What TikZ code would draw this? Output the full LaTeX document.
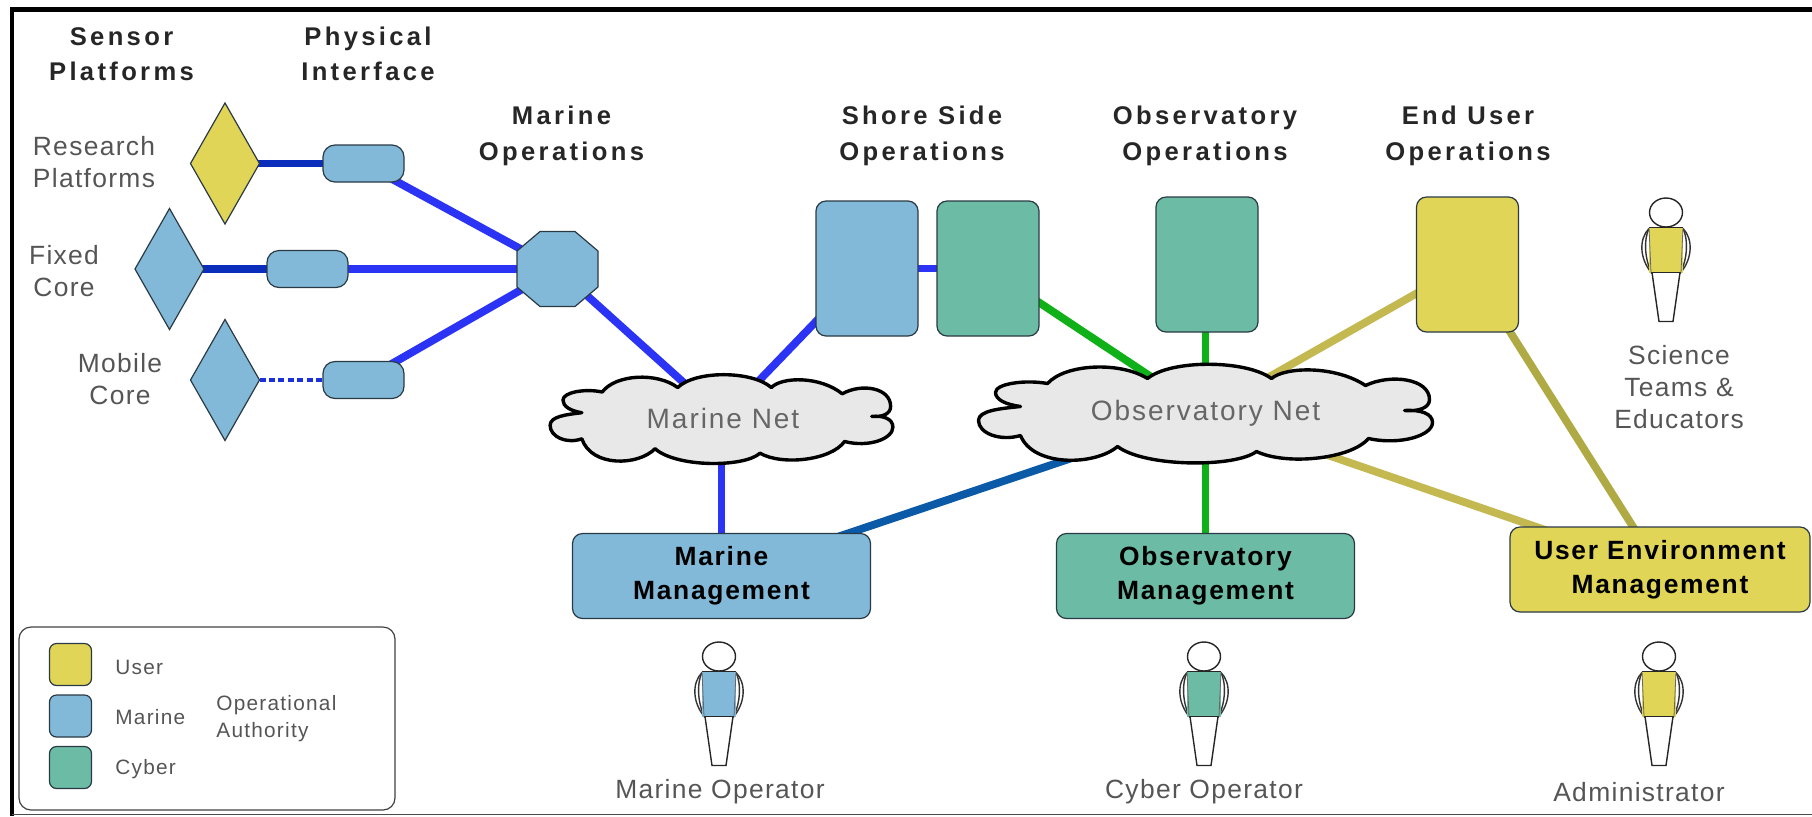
\documentclass[tikz,border=0pt]{standalone}
\usepackage{fontspec}
\setmainfont{Liberation Sans}
\newfontfamily\headfont[LetterSpace=13]{Liberation Sans Bold}
\newfontfamily\mgmtfont[LetterSpace=6.5]{Liberation Sans Bold}
\newfontfamily\lblfont[LetterSpace=5]{Liberation Sans}
\newfontfamily\netfont[LetterSpace=7]{Liberation Sans}
\newfontfamily\legfont[LetterSpace=6]{Liberation Sans}
\usetikzlibrary{shapes.geometric}
\pgfdeclarelayer{background}
\pgfsetlayers{background,main}
\definecolor{cblue}{HTML}{82B9D9}
\definecolor{cgreen}{HTML}{6CBCA5}
\definecolor{cyell}{HTML}{E0D557}
\definecolor{edge}{HTML}{2A3A44}
\definecolor{lbright}{HTML}{2B33F5}
\definecolor{ldark}{HTML}{0B2DBB}
\definecolor{lsea}{HTML}{0A5AA8}
\definecolor{lgreen}{HTML}{10B018}
\definecolor{lyell}{HTML}{C4B850}
\definecolor{lolive}{HTML}{B0AA45}
\definecolor{lbltxt}{HTML}{555555}
\tikzset{
  x=0.5pt,y=-0.5pt,
  shapebase/.style={draw=edge,line width=0.6pt,inner sep=0pt,outer sep=0pt},
  plat/.style={shapebase,diamond,minimum width=34.5pt,minimum height=60.5pt},
  iface/.style={shapebase,rectangle,rounded corners=6pt,fill=cblue,minimum width=40.5pt,minimum height=18.5pt},
  tallbox/.style={shapebase,rectangle,rounded corners=5pt,minimum width=51pt,minimum height=67.5pt},
  mgmt/.style={shapebase,rectangle,rounded corners=5pt,minimum width=149pt,minimum height=42.5pt,align=center,font=\mgmtfont\fontsize{13.2}{17}\selectfont,text=black},
  swatch/.style={shapebase,rectangle,rounded corners=3.5pt,minimum width=21pt,minimum height=21pt},
  head/.style={inner sep=0pt,align=center,font=\headfont\fontsize{12.8}{17.8}\selectfont,text=black!85},
  lbl/.style={inner sep=0pt,align=center,font=\lblfont\fontsize{13.2}{16}\selectfont,text=lbltxt},
  netlbl/.style={inner sep=0pt,align=center,font=\netfont\fontsize{14}{16}\selectfont,text=black!60},
  leg/.style={inner sep=0pt,align=left,font=\legfont\fontsize{10.4}{13.5}\selectfont,text=lbltxt},
  conn/.style={line width=3.9pt},
  cloudline/.style={draw=black,fill=black!9,line width=1.7pt,line join=round},
  person/.pic={
    \draw[black!85,line width=0.7pt,fill=white] (0,0) ellipse[x radius=16.5,y radius=14.5];
    \draw[black!85,line width=0.7pt] (-14,60) -- (-7,109) -- (7,109) -- (14,60);
    \draw[black!80,line width=0.7pt] (-17,16) .. controls (-27,26) and (-27,46) .. (-14,61);
    \draw[black!80,line width=0.7pt] (-17,16) .. controls (-22,26) and (-22,46) .. (-14,61);
    \draw[black!80,line width=0.7pt] (17,16) .. controls (27,26) and (27,46) .. (14,61);
    \draw[black!80,line width=0.7pt] (17,16) .. controls (22,26) and (22,46) .. (14,61);
    \fill[#1] (-17,15) rectangle (17,60);
    \draw[black!85,line width=0.7pt] (-17,15) -- (17,15);
    \draw[black!85,line width=0.7pt] (-15,60) -- (15,60);
    \draw[black!60,line width=0.4pt] (-17,15) -- (-15,60);
    \draw[black!60,line width=0.4pt] (17,15) -- (15,60);
  },
  person/.default=cblue
}
\newcommand{\cloudoutline}[4]{%
  \draw[cloudline,shift={(#1,#2)},xscale=#3,yscale=#4]
    (-58,-35) .. controls (-35,-54) and (40,-54) .. (66,-35)
    .. controls (80,-47) and (130,-48) .. (160,-28)
    .. controls (185,-40) and (224,-35) .. (224,-14)
    .. controls (224,-5) and (212,-2) .. (199,-3)
    .. controls (215,-4) and (227,0) .. (227,9)
    .. controls (227,22) and (195,32) .. (163,25)
    .. controls (145,46) and (80,52) .. (51,38)
    .. controls (30,54) and (-60,54) .. (-88,33)
    .. controls (-110,52) and (-172,54) .. (-185,22)
    .. controls (-205,28) and (-227,20) .. (-227,7)
    .. controls (-227,-3) and (-205,-5) .. (-185,-7)
    .. controls (-200,-9) and (-210,-14) .. (-210,-21)
    .. controls (-210,-30) and (-180,-34) .. (-158,-30)
    .. controls (-140,-50) and (-85,-52) .. (-58,-35) -- cycle;}
\begin{document}
\begin{tikzpicture}
\useasboundingbox (0,0) rectangle (1812,816);
% frame
\draw[black,line width=2.2pt] (1812,9.5) -- (12,9.5) -- (12,816);
\draw[black!70,line width=0.8pt] (12,814.5) -- (1812,814.5);
% shapes
\node[plat,fill=cyell] (research) at (225,163.5) {};
\node[plat,fill=cblue] (fixed) at (169.5,269) {};
\node[plat,fill=cblue] (mobile) at (225,380) {};
\node[iface] (if1) at (363.5,163.5) {};
\node[iface] (if2) at (307.5,269) {};
\node[iface] (if3) at (363.5,380) {};
\node[inner sep=0pt,outer sep=0pt,minimum width=40.5pt,minimum height=37.5pt] (octa) at (557.5,269) {};
\draw[shapebase,fill=cblue,line join=round,shift={(octa.center)}]
  (-17.5,-37.5) -- (17.5,-37.5) -- (40.5,-18) -- (40.5,18) -- (17.5,37.5) -- (-17.5,37.5) -- (-40.5,18) -- (-40.5,-18) -- cycle;
\node[tallbox,fill=cblue] (shoreA) at (867,268.5) {};
\node[tallbox,fill=cgreen] (shoreB) at (988,268.5) {};
\node[tallbox,fill=cgreen] (obsbox) at (1207,264.5) {};
\node[tallbox,fill=cyell] (userbox) at (1467.5,264.5) {};
\node[mgmt,fill=cblue] (marinemg) at (721.5,576) {Marine\\Management};
\node[mgmt,fill=cgreen] (obsmg) at (1205.5,576) {Observatory\\Management};
\node[mgmt,fill=cyell,minimum width=150pt] (usermg) at (1660,569.5) {User Environment\\Management};
\node[netlbl] (marinenet) at (723,418) {Marine Net};
\node[netlbl] (obsnet) at (1205.5,413) {Observatory Net};
% connectors + clouds behind
\begin{pgfonlayer}{background}
\draw[conn,ldark] (research.center) -- (if1.center);
\draw[conn,ldark] (fixed.center) -- (if2.center);
\draw[ldark!50!lbright,line width=2.2pt,dash pattern=on 3pt off 1.7pt] (mobile.east) -- (if3.west);
\draw[conn,lbright] (if1.center) -- (octa.center);
\draw[conn,lbright] (if2.center) -- (octa.center);
\draw[conn,lbright] (if3.center) -- (octa.center);
\draw[conn,lbright] (octa.center) -- (marinenet.center);
\draw[conn,lbright] (marinenet.center) -- (shoreA.center);
\draw[conn,lbright] (shoreA.center) -- (shoreB.center);
\draw[conn,lbright] (marinemg.center |- marinenet.center) -- (marinemg.center);
\draw[conn,lsea] (obsnet.center) -- (marinemg.center);
\draw[conn,lgreen] (shoreB.center) -- (obsnet.center);
\draw[conn,lgreen] (obsnet.center) -- (obsnet.center |- obsbox.center);
\draw[conn,lgreen] (obsnet.center) -- (obsmg.center);
\draw[conn,lyell] (userbox.center) -- (obsnet.center);
\draw[conn,lyell] (obsnet.center) -- (usermg.center);
\draw[conn,lolive] (userbox.center) -- (usermg.center);
\cloudoutline{721.5}{419}{0.755}{0.9}
\cloudoutline{1205.5}{413.5}{1}{1}
\end{pgfonlayer}
% headings
\node[head] (h1) at (121.5,54) {Sensor\\Platforms};
\node[head] (h2) at (368,54) {Physical\\Interface};
\node[head] (h3) at (561.5,136) {Marine\\Operations};
\node[head] (h4) at (922,136) {Shore Side\\Operations};
\node[head] (h5) at (1205,136) {Observatory\\Operations};
\node[head] (h6) at (1468,136) {End User\\Operations};
% platform labels
\node[lbl] (l1) at (94,162.5) {Research\\Platforms};
\node[lbl] (l2) at (64,271.5) {Fixed\\Core};
\node[lbl] (l3) at (120,379) {Mobile\\Core};
\node[lbl] (l4) at (1679,387) {Science\\Teams \&\\Educators};
% persons
\pic at (719,656.5) {person=cblue};
\pic at (1204,656.5) {person=cgreen};
\pic at (1659,656.5) {person=cyell};
\pic at (1666,212.5) {person=cyell};
\node[lbl] (p1) at (720,792) {Marine Operator};
\node[lbl] (p2) at (1204,792) {Cyber Operator};
\node[lbl] (p3) at (1639,792) {Administrator};
% legend
\node[draw=black!75,line width=0.6pt,rectangle,rounded corners=6pt,inner sep=0pt,minimum width=188pt,minimum height=91.5pt] (legend) at (207,718.5) {};
\node[swatch,fill=cyell] (s1) at (70.5,664.5) {};
\node[swatch,fill=cblue] (s2) at (70.5,716) {};
\node[swatch,fill=cgreen] (s3) at (70.5,767.5) {};
\node[leg,anchor=west] (t1) at (115,667) {User};
\node[leg,anchor=west] (t2) at (115,717) {Marine};
\node[leg,anchor=west] (t3) at (115,769) {Cyber};
\node[leg,anchor=west] (t4) at (216,719) {Operational\\Authority};
\end{tikzpicture}
\end{document}
